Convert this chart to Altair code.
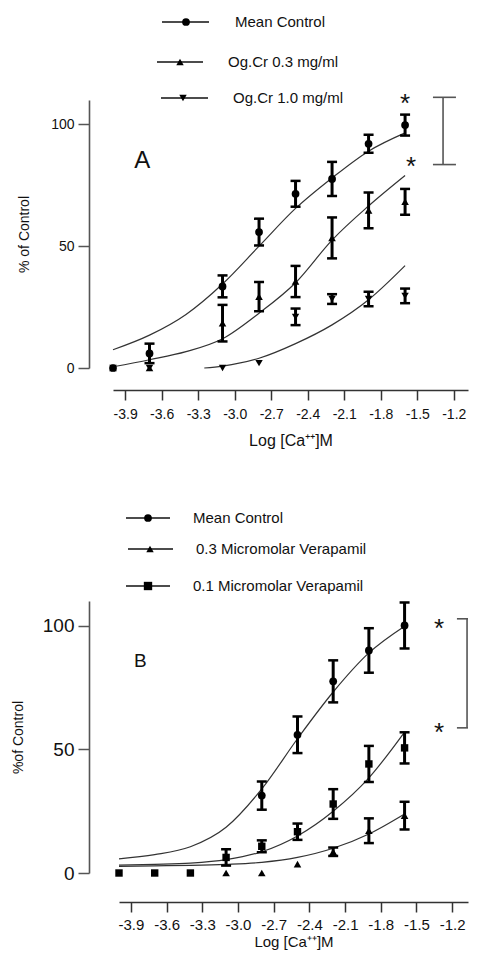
import altair as alt
import pandas as pd

FONT = "Liberation Sans"
X_TICKS = [-3.9, -3.6, -3.3, -3.0, -2.7, -2.4, -2.1, -1.8, -1.5, -1.2]
Y_TICKS = [0, 50, 100]
X_TITLE = "Log [Ca\u207a\u207a]M"

# ---------------- Panel A data ----------------
a_names = ["Mean Control", "Og.Cr 0.3 mg/ml", "Og.Cr 1.0 mg/ml"]
a_x = [-4.0, -3.7, -3.1, -2.8, -2.5, -2.2, -1.9, -1.6]
a_ctrl = [0, 6.0, 33.5, 55.8, 71.5, 77.6, 92.0, 99.7]
a_ctrl_err = [0, 4.0, 4.5, 5.5, 5.3, 7.0, 3.7, 4.3]
a_og03 = [0, 0, 18.4, 29.3, 35.5, 53.4, 64.7, 68.2]
a_og03_err = [0, 0, 7.5, 6.0, 6.4, 8.4, 7.3, 5.3]
a_og10 = [0, 0, 0, 2.0, 21.0, 28.3, 28.3, 29.6]
a_og10_err = [0, 0, 0, 0, 3.4, 2.0, 3.0, 3.0]

a_fit_x = [-4.0, -3.7, -3.4, -3.1, -2.8, -2.5, -2.2, -1.9, -1.6]
a_ctrl_fit = [7.5, 13.5, 22, 34.5, 50, 65.5, 78, 89, 96.5]
a_og03_fit = [0.5, 3.4, 6.7, 12, 22.5, 35, 52.5, 66.5, 79]
a_og10_fit_x = [-3.25, -3.1, -2.8, -2.5, -2.2, -1.9, -1.6]
a_og10_fit = [0, 0.8, 4, 10, 17.7, 28, 42]

# ---------------- Panel B data ----------------
b_names = ["Mean Control", "0.3 Micromolar Verapamil", "0.1 Micromolar Verapamil"]
b_x = [-4.0, -3.7, -3.4, -3.1, -2.8, -2.5, -2.2, -1.9, -1.6]
b_ctrl = [None, None, None, None, 31.3, 55.9, 77.5, 90.0, 100.1]
b_ctrl_err = [None, None, None, None, 5.7, 7.4, 8.5, 9.0, 9.3]
b_ver03 = [None, None, None, 0, 0, 3.6, 8.6, 17.1, 23.2]
b_ver03_err = [None, None, None, 0, 0, 0, 1.7, 5.0, 5.6]
b_ver01 = [0, 0, 0, 6.3, 10.8, 16.7, 27.9, 44.1, 50.6]
b_ver01_err = [0, 0, 0, 3.3, 2.4, 3.3, 6.0, 7.3, 6.3]

b_fit_x = [-4.0, -3.7, -3.4, -3.1, -2.8, -2.5, -2.2, -1.9, -1.6]
b_ctrl_fit = [5.7, 7.4, 10.6, 18.5, 34.0, 54.3, 73.2, 89.0, 99.8]
b_ver03_fit = [2.7, 2.9, 3.1, 3.5, 4.3, 6.3, 10.0, 15.8, 23.9]
b_ver01_fit = [3.2, 3.5, 4.0, 5.4, 8.6, 15.0, 25.0, 38.5, 57.0]

LABEL_EXPR = "datum.value < 0 ? '-' + format(-datum.value, '.1f') : format(datum.value, '.1f')"


def point_frame(xs, names, means, errs):
    rows = []
    for name, m, e in zip(names, means, errs):
        for xv, yv, ev in zip(xs, m, e):
            if yv is None:
                continue
            ev = ev or 0
            rows.append({"series": name, "x": xv, "y": yv,
                         "lo": yv - ev, "hi": yv + ev, "err": ev})
    return pd.DataFrame(rows)


def fit_frame(xs_list, names, fits):
    rows = []
    for name, xs, f in zip(names, xs_list, fits):
        for xv, yv in zip(xs, f):
            rows.append({"series": name, "x": xv, "y": yv})
    return pd.DataFrame(rows)


def panel(pts, fits, names, shapes, sizes, cfg):
    xsc = alt.Scale(domain=cfg["xdom"], nice=False, zero=False)
    ysc = alt.Scale(domain=[0, 110], nice=False, zero=False)
    xaxis = alt.Axis(values=X_TICKS, labelExpr=LABEL_EXPR, offset=cfg["xoff"],
                     tickSize=10, tickWidth=1.5, tickColor="#333",
                     domainColor="#333", domainWidth=1.6,
                     labelFontSize=cfg["xlab"], labelColor="#111",
                     labelPadding=cfg["xlpad"], labelFlush=False,
                     titleFontSize=cfg["xtitle"], titleFontWeight="normal",
                     titleColor="#111", titlePadding=cfg["xtpad"], grid=False)
    yaxis = alt.Axis(values=Y_TICKS, offset=cfg["yoff"], tickSize=11,
                     tickWidth=1.5, tickColor="#555", domainColor="#555",
                     domainWidth=1.6, labelFontSize=cfg["ylab"],
                     labelColor="#111", labelPadding=4,
                     titleFontSize=14, titleFontWeight="normal",
                     titleColor="#111", titlePadding=cfg["ytpad"], grid=False)

    def X(f):
        return alt.X(f"{f}:Q", scale=xsc, axis=xaxis, title=X_TITLE)

    def Y(f):
        return alt.Y(f"{f}:Q", scale=ysc, axis=yaxis, title=cfg["ytitle"])

    curves = alt.Chart(fits).mark_line(
        color="#333", strokeWidth=1.2, interpolate="monotone"
    ).encode(x=X("x"), y=Y("y"), detail="series:N")

    eb = pts[pts["err"] > 0]
    rules = alt.Chart(eb).mark_rule(color="black", strokeWidth=3).encode(
        x=X("x"), y=Y("lo"), y2="hi")
    cap_hi = alt.Chart(eb).mark_tick(color="black", orient="horizontal",
                                     size=10, thickness=2.5, opacity=1).encode(
        x=X("x"), y=Y("hi"))
    cap_lo = alt.Chart(eb).mark_tick(color="black", orient="horizontal",
                                     size=10, thickness=2.5, opacity=1).encode(
        x=X("x"), y=Y("lo"))
    dots = alt.Chart(pts).mark_point(filled=True, color="black", opacity=1,
                                     strokeWidth=0).encode(
        x=X("x"), y=Y("y"),
        shape=alt.Shape("series:N", scale=alt.Scale(domain=names, range=shapes), legend=None),
        size=alt.Size("series:N", scale=alt.Scale(domain=names, range=sizes), legend=None),
    )

    letter = alt.Chart(pd.DataFrame([cfg["letter_pos"]])).mark_text(
        text=cfg["letter"], fontSize=cfg["letter_size"], align="center",
        baseline="middle", color="#111").encode(x=X("x"), y=Y("y"))

    stars = alt.Chart(pd.DataFrame(cfg["stars"])).mark_text(
        text="*", fontSize=26, align="center", baseline="alphabetic", dy=15,
        color="#111").encode(x=X("x"), y=Y("y"))

    br = cfg["bracket"]
    br_v = alt.Chart(pd.DataFrame([{"x": br["x"], "y": br["y1"], "y2": br["y2"]}])).mark_rule(
        color="#555", strokeWidth=1.6).encode(x=X("x"), y=Y("y"), y2="y2")
    br_caps = alt.Chart(pd.DataFrame([
        {"x": br["cx1"], "x2": br["cx2"], "y": br["y1"]},
        {"x": br["cx1"], "x2": br["cx2"], "y": br["y2"]},
    ])).mark_rule(color="#555", strokeWidth=1.6).encode(x=X("x"), x2="x2", y=Y("y"))

    layers = [curves, rules, cap_hi, cap_lo, dots, letter, stars, br_v, br_caps]

    for (label, shape, size), lay in zip(zip(names, shapes, sizes), cfg["legend"]):
        one = pd.DataFrame({"label": [label]})
        layers.append(alt.Chart(one).mark_rule(color="#111", strokeWidth=1.4).encode(
            x=alt.value(lay["x1"]), x2=alt.value(lay["x2"]), y=alt.value(lay["y"])))
        layers.append(alt.Chart(one).mark_point(filled=True, shape=shape, size=size,
                                                color="black", opacity=1, strokeWidth=0).encode(
            x=alt.value(lay["mx"]), y=alt.value(lay["y"])))
        layers.append(alt.Chart(one).mark_text(align="left", baseline="middle",
                                               fontSize=15, color="#111").encode(
            x=alt.value(lay["tx"]), y=alt.value(lay["y"]), text="label:N"))

    return alt.layer(*layers).properties(width=cfg["w"], height=cfg["h"])


pts_a = point_frame(a_x, a_names, [a_ctrl, a_og03, a_og10], [a_ctrl_err, a_og03_err, a_og10_err])
fit_a = fit_frame([a_fit_x, a_fit_x, a_og10_fit_x], a_names, [a_ctrl_fit, a_og03_fit, a_og10_fit])
pts_b = point_frame(b_x, b_names, [b_ctrl, b_ver03, b_ver01], [b_ctrl_err, b_ver03_err, b_ver01_err])
fit_b = fit_frame([b_fit_x, b_fit_x, b_fit_x], b_names, [b_ctrl_fit, b_ver03_fit, b_ver01_fit])

cfg_a = dict(
    w=355, h=268, xdom=[-4.0, -1.083], xoff=22, yoff=24, xlab=14, ylab=14,
    xtitle=16, xlpad=7, xtpad=11, ytpad=19,
    ytitle="% of Control", letter="A", letter_size=24,
    letter_pos={"x": -3.76, "y": 84.8},
    stars=[{"x": -1.6, "y": 111.1}, {"x": -1.55, "y": 85.2}],
    bracket={"x": -1.288, "y1": 111.1, "y2": 83.5, "cx1": -1.371, "cx2": -1.182},
    legend=[
        {"x1": 49, "x2": 96, "mx": 73, "tx": 122, "y": -78},
        {"x1": 44, "x2": 90, "mx": 67, "tx": 115, "y": -38},
        {"x1": 48, "x2": 95, "mx": 70, "tx": 120, "y": -2},
    ],
)
cfg_b = dict(
    w=349, h=272, xdom=[-4.0, -1.067], xoff=29, yoff=30, xlab=15, ylab=19,
    xtitle=15, xlpad=5, xtpad=2, ytpad=17,
    ytitle="%of Control", letter="B", letter_size=19,
    letter_pos={"x": -3.82, "y": 85.8},
    stars=[{"x": -1.311, "y": 101.6}, {"x": -1.311, "y": 59.5}],
    bracket={"x": -1.075, "y1": 102.8, "y2": 58.7, "cx1": -1.16, "cx2": -1.067},
    legend=[
        {"x1": 7, "x2": 51, "mx": 29, "tx": 74, "y": -83},
        {"x1": 9, "x2": 54, "mx": 31, "tx": 77, "y": -52},
        {"x1": 7, "x2": 51, "mx": 29, "tx": 74, "y": -15},
    ],
)

panel_a = panel(pts_a, fit_a, a_names, ["circle", "triangle-up", "triangle-down"], [60, 55, 55], cfg_a)
panel_b = panel(pts_b, fit_b, b_names, ["circle", "triangle-up", "square"], [60, 55, 70], cfg_b)

spacer = alt.Chart(pd.DataFrame({"k": [0]})).mark_point(opacity=0).encode(
    x=alt.value(0), y=alt.value(0)).properties(width=1, height=1)

bottom = alt.hconcat(spacer, panel_b, spacing=5, bounds="flush").resolve_scale(
    shape="independent", size="independent")

chart = alt.vconcat(panel_a, bottom, spacing=63).resolve_scale(
    shape="independent", size="independent"
).properties(
    padding={"left": 3, "top": 7, "right": 0, "bottom": 2}
).configure(font=FONT, background="white").configure_view(stroke=None)

chart.save("out.html", embed_options={"renderer": "svg", "actions": False})
